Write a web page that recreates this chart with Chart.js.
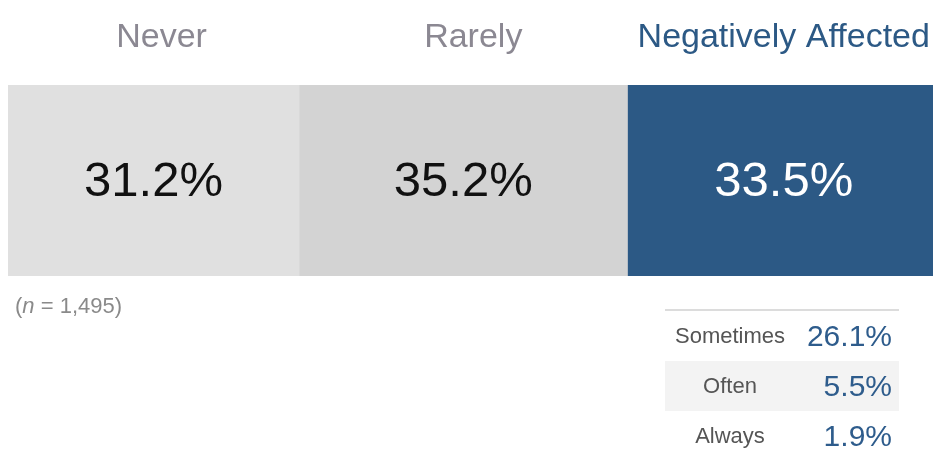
<!DOCTYPE html>
<html>
<head>
<meta charset="utf-8">
<script src="https://cdn.jsdelivr.net/npm/chart.js@4/dist/chart.umd.min.js"></script>
<style>
  html, body { margin: 0; padding: 0; background: #fff; overflow: hidden; width: 933px; height: 457px; }
  #wrap { position: absolute; left: 0; top: 0; width: 940px; height: 457px; }
  #note { position: absolute; left: 15px; top: 293px; font: 22px "Liberation Sans", Arial, sans-serif; color: #8a8a8a; }
  #breakdown { position: absolute; left: 665px; top: 309px; width: 234px; border-collapse: collapse; border-top: 2px solid #dcdcdc;
    font-family: "Liberation Sans", Arial, sans-serif; }
  #breakdown td { height: 50px; padding: 0; }
  #breakdown tr:nth-child(2) td { background: #f3f3f3; }
  #breakdown td.lab { text-align: center; font-size: 22px; color: #555; width: 130px; }
  #breakdown td.val { text-align: right; font-size: 30px; color: #2e5c8c; padding-right: 7px; }
</style>
</head>
<body>
<div id="wrap"><canvas id="bar-chart"></canvas></div>
<div id="note">(<i>n</i> = 1,495)</div>
<table id="breakdown"></table>
<script>
// main split
const categories = ["Never", "Rarely", "Negatively Affected"];
const values = [31.2, 35.2, 33.5];
const barColors = ["#e0e0e0", "#d3d3d3", "#2c5985"];
const headColors = ["#8b8892", "#8b8892", "#2c5985"];
const textColors = ["#111111", "#111111", "#ffffff"];
const headShift = [8, 10, 0];

// breakdown of "Negatively Affected"
const subLabels = ["Sometimes", "Often", "Always"];
const subValues = [26.1, 5.5, 1.9];

const table = document.getElementById("breakdown");
subLabels.forEach((lab, i) => {
  const tr = document.createElement("tr");
  tr.innerHTML = '<td class="lab">' + lab + '</td><td class="val">' + subValues[i].toFixed(1) + '%</td>';
  table.appendChild(tr);
});

const labelsPlugin = {
  id: "segLabels",
  afterDatasetsDraw(chart) {
    const ctx = chart.ctx;
    const xs = chart.scales.x;
    let start = 0;
    ctx.save();
    ctx.textAlign = "center";
    values.forEach((v, i) => {
      const cx = xs.getPixelForValue(start + v / 2);
      const bar = chart.getDatasetMeta(i).data[0];
      ctx.font = "49px 'Liberation Sans', Arial, sans-serif";
      ctx.fillStyle = textColors[i];
      ctx.textBaseline = "middle";
      ctx.fillText(v.toFixed(1) + "%", cx, bar.y + 2);
      ctx.font = "34px 'Liberation Sans', Arial, sans-serif";
      ctx.fillStyle = headColors[i];
      ctx.textBaseline = "alphabetic";
      ctx.fillText(categories[i], cx + headShift[i], 47);
      start += v;
    });
    ctx.restore();
  }
};

const total = values.reduce((a, b) => a + b, 0);

new Chart(document.getElementById("bar-chart"), {
  type: "bar",
  data: {
    labels: [""],
    datasets: categories.map((c, i) => ({
      label: c,
      data: [values[i]],
      backgroundColor: barColors[i],
      borderWidth: 0,
      barPercentage: 1,
      categoryPercentage: 1
    }))
  },
  options: {
    indexAxis: "y",
    responsive: true,
    maintainAspectRatio: false,
    animation: false,
    layout: { padding: { left: 8, right: 0, top: 85, bottom: 181 } },
    plugins: { legend: { display: false }, tooltip: { enabled: false } },
    scales: {
      x: { stacked: true, display: false, min: 0, max: total },
      y: { stacked: true, display: false }
    }
  },
  plugins: [labelsPlugin]
});
</script>
</body>
</html>
